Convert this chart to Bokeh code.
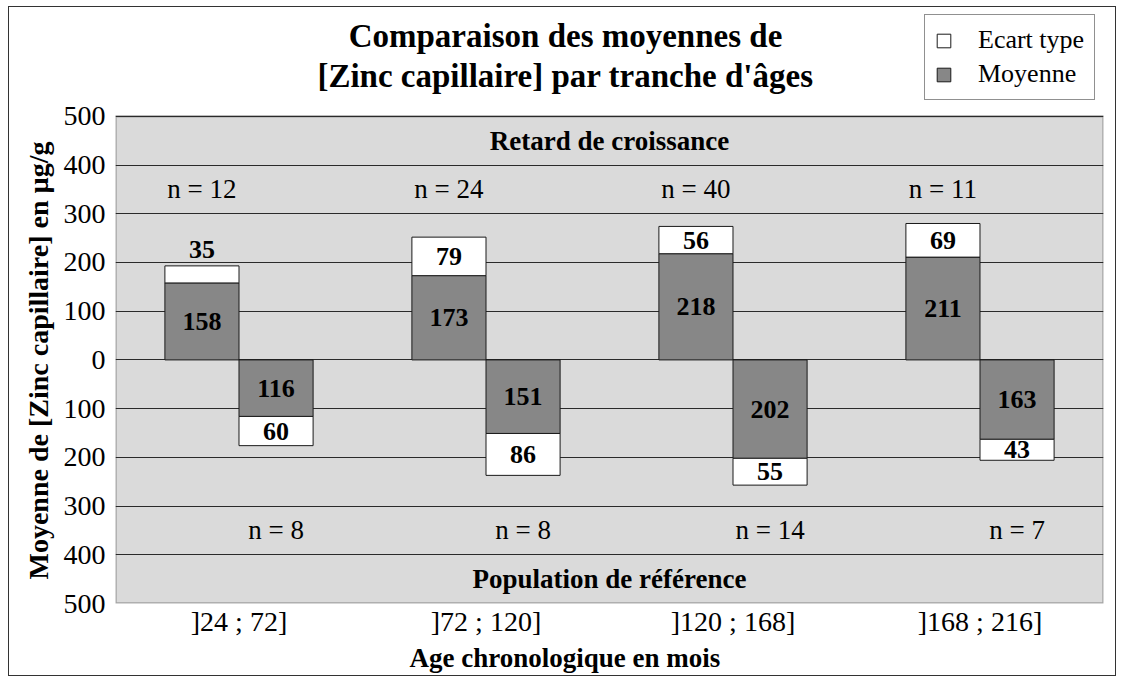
from bokeh.plotting import figure
from bokeh.models import (ColumnDataSource, FactorRange, Range1d, FixedTicker, Title,
                          Legend, LegendItem, CustomJSTickFormatter, BoxAnnotation, Label)
from bokeh.transform import dodge
from bokeh.core.properties import value
from bokeh.embed import file_html
from bokeh.resources import INLINE

categories = ["]24 ; 72]", "]72 ; 120]", "]120 ; 168]", "]168 ; 216]"]
retard_mean = [158, 173, 218, 211]
retard_sd = [35, 79, 56, 69]
retard_n = [12, 24, 40, 11]
ref_mean = [116, 151, 202, 163]
ref_sd = [60, 86, 55, 43]
ref_n = [8, 8, 14, 7]
y_ticks = [-500, -400, -300, -200, -100, 0, 100, 200, 300, 400, 500]

FONT = "Liberation Serif"
MEAN_COLOR = "#878787"
BG_COLOR = "#dadada"
LINE = "#222222"

W, H = 1108, 670          # content size; 1px CSS border around, offset 8px / 6px
FL, FR, FB = 106, 14, 73  # frame margins (left, right, bottom)
PX_PER_UNIT = 0.488       # plot area: 1000 units over 488 px
y_top = -500 + (H - FB) / PX_PER_UNIT

p = figure(x_range=FactorRange(*categories), y_range=Range1d(-500, y_top),
           width=W, height=H, output_backend="svg", toolbar_location=None,
           min_border_left=FL, min_border_right=FR, min_border_top=0,
           min_border_bottom=FB)
p.styles = {"border": "1px solid #333333", "margin-left": "8px", "margin-top": "6px"}
p.background_fill_color = "white"
p.border_fill_color = "white"
p.outline_line_color = None

# plot area (gray zone between -500 and 500)
area = BoxAnnotation(bottom=-500, top=500, fill_color=BG_COLOR, fill_alpha=1,
                     line_color=LINE, line_width=2.4, level="image")
p.add_layout(area)

# grid
p.xgrid.visible = False
p.ygrid.ticker = FixedTicker(ticks=y_ticks)
p.ygrid.grid_line_color = "#2a2a2a"
p.ygrid.grid_line_width = 1.2

# axes
p.yaxis.ticker = FixedTicker(ticks=y_ticks)
p.yaxis.formatter = CustomJSTickFormatter(code="return String(Math.abs(tick));")
for ax in (p.xaxis[0], p.yaxis[0]):
    ax.axis_line_color = None
    ax.major_tick_line_color = None
    ax.minor_tick_line_color = None
    ax.major_tick_out = 0
    ax.major_tick_in = 0
    ax.major_label_text_font = FONT
    ax.major_label_text_font_size = "28px"
    ax.major_label_text_color = "black"
p.yaxis.major_label_standoff = 10
p.xaxis.major_label_standoff = 2

ylab = Title(text="Moyenne de [Zinc capillaire] en µg/g", align="left", offset=24,
             text_font=FONT, text_font_size="28px", text_font_style="bold",
             text_color="black", standoff=13)
p.add_layout(ylab, "left")

xlab = Title(text="Age chronologique en mois", align="left", offset=294,
             text_font=FONT, text_font_size="27px", text_font_style="bold",
             text_color="black", vertical_align="top", standoff=6)
p.add_layout(xlab, "below")

# data sources
pos = ColumnDataSource(dict(
    cat=categories,
    mean=retard_mean,
    top=[m + s for m, s in zip(retard_mean, retard_sd)],
    mean_y=[m / 2 for m in retard_mean],
    sd_y=[(m + s + 33) if s < 40 else (m + s / 2) for m, s in zip(retard_mean, retard_sd)],
    mean_txt=[str(v) for v in retard_mean],
    sd_txt=[str(v) for v in retard_sd],
    n_txt=["n = %d" % v for v in retard_n],
    n_y=[350] * len(categories),
))
neg = ColumnDataSource(dict(
    cat=categories,
    mean=[-m for m in ref_mean],
    top=[-(m + s) for m, s in zip(ref_mean, ref_sd)],
    mean_y=[-m / 2 for m in ref_mean],
    sd_y=[-(m + s + 33) if s < 40 else -(m + s / 2) for m, s in zip(ref_mean, ref_sd)],
    mean_txt=[str(v) for v in ref_mean],
    sd_txt=[str(v) for v in ref_sd],
    n_txt=["n = %d" % v for v in ref_n],
    n_y=[-350] * len(categories),
))

BW = 0.3
xl = dodge("cat", -BW / 2, range=p.x_range)
xr = dodge("cat", BW / 2, range=p.x_range)

r_mean = p.vbar(x=xl, bottom=0, top="mean", width=BW, source=pos,
                fill_color=MEAN_COLOR, line_color="#1a1a1a", line_width=1)
r_sd = p.vbar(x=xl, bottom="mean", top="top", width=BW, source=pos,
              fill_color="white", line_color="#1a1a1a", line_width=1)
p.vbar(x=xr, bottom="mean", top=0, width=BW, source=neg,
       fill_color=MEAN_COLOR, line_color="#1a1a1a", line_width=1)
p.vbar(x=xr, bottom="top", top="mean", width=BW, source=neg,
       fill_color="white", line_color="#1a1a1a", line_width=1)

for src, xx in ((pos, xl), (neg, xr)):
    p.text(x=xx, y="mean_y", text="mean_txt", source=src, text_font=value(FONT),
           text_font_size="26px", text_font_style="bold", text_align="center",
           text_baseline="middle", text_color="black")
    p.text(x=xx, y="sd_y", text="sd_txt", source=src, text_font=value(FONT),
           text_font_size="26px", text_font_style="bold", text_align="center",
           text_baseline="middle", text_color="black")
    p.text(x=xx, y="n_y", text="n_txt", source=src, text_font=value(FONT),
           text_font_size="27px", text_align="center",
           text_baseline="middle", text_color="black")

zones = ColumnDataSource(dict(cat=[categories[1], categories[1]], y=[450, -450],
                              txt=["Retard de croissance", "Population de référence"]))
p.text(x=dodge("cat", 0.5, range=p.x_range), y="y", text="txt", source=zones,
       text_font=value(FONT), text_font_size="27px", text_font_style="bold",
       text_align="center", text_baseline="middle", text_color="black")

# chart title (two lines), positioned in screen pixels relative to the frame
for txt, yy in (("Comparaison des moyennes de", 568),
                ("[Zinc capillaire] par tranche d'âges", 528)):
    p.add_layout(Label(x=450, y=yy, x_units="screen", y_units="screen", text=txt,
                       text_font=FONT, text_font_size="33px", text_font_style="bold",
                       text_color="black", text_align="center", text_baseline="middle"))

legend = Legend(items=[LegendItem(label="Ecart type", renderers=[r_sd]),
                       LegendItem(label="Moyenne", renderers=[r_mean])],
                location=(809, 503), orientation="vertical",
                label_text_font=FONT, label_text_font_size="26px",
                label_text_color="black", glyph_width=17, glyph_height=17,
                label_standoff=26, label_width=106, label_height=22,
                spacing=4, padding=10,
                margin=0, border_line_color=LINE, border_line_width=1,
                background_fill_color="white", background_fill_alpha=1)
p.add_layout(legend, "center")

open("out.html", "w").write(file_html(p, INLINE))
